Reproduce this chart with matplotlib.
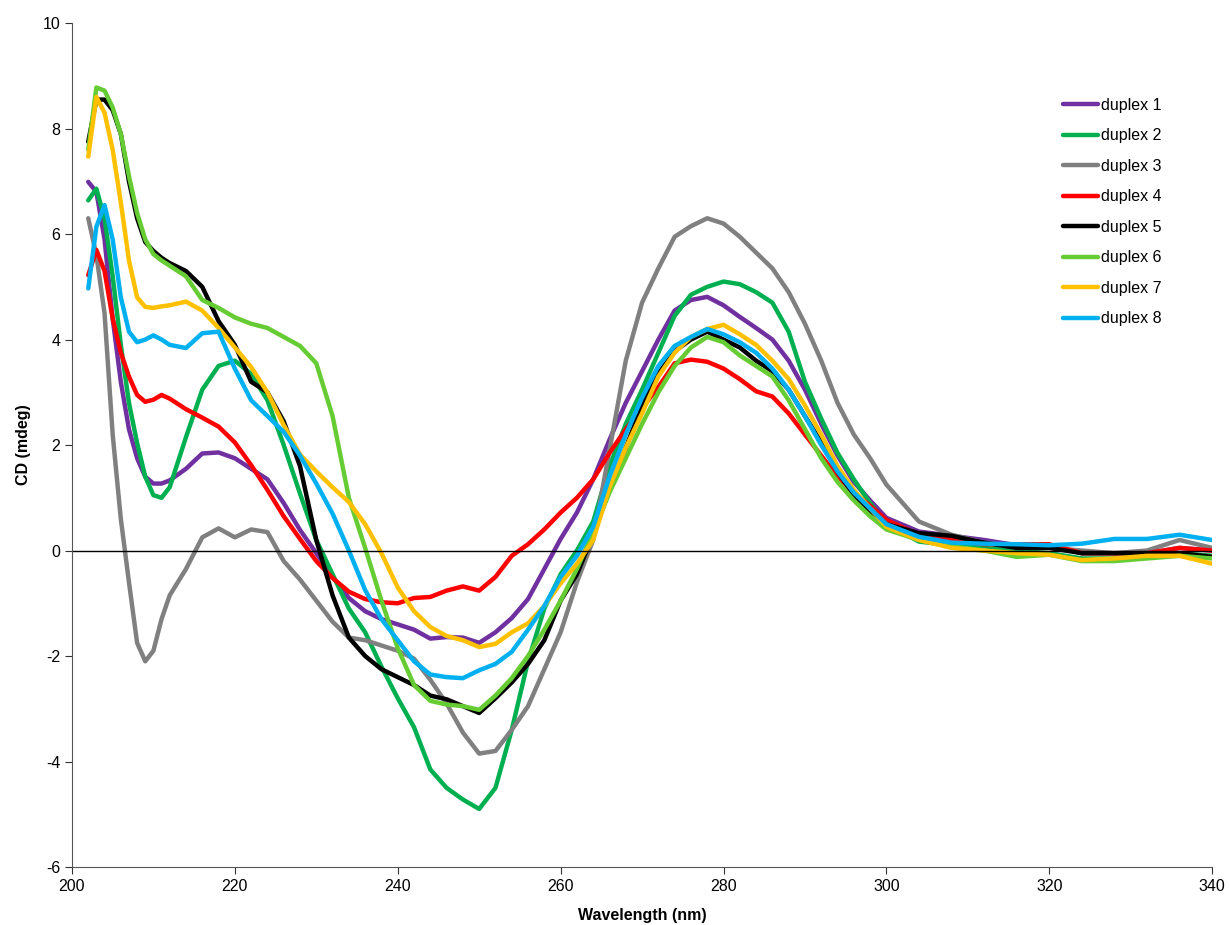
import matplotlib.pyplot as plt

plt.rcParams['font.family'] = ['Liberation Sans', 'DejaVu Sans']
plt.rcParams['axes.unicode_minus'] = False

# wavelength grid (nm)
wl = [202, 203, 204, 205, 206, 207, 208, 209, 210, 211, 212,
      214, 216, 218, 220, 222, 224, 226, 228, 230, 232, 234, 236, 238, 240,
      242, 244, 246, 248, 250, 252, 254, 256, 258, 260, 262, 264, 266, 268,
      270, 272, 274, 276, 278, 280, 282, 284, 286, 288, 290, 292, 294, 296,
      298, 300, 304, 308, 312, 316, 320, 324, 328, 332, 336, 340]

duplex1 = [6.99, 6.8, 5.9, 4.4, 3.2, 2.3, 1.75, 1.4, 1.27, 1.27, 1.33,
           1.55, 1.84, 1.86, 1.75, 1.55, 1.35, 0.9, 0.39, -0.05, -0.5, -0.9, -1.15, -1.3, -1.4,
           -1.5, -1.67, -1.64, -1.65, -1.75, -1.55, -1.28, -0.92, -0.35, 0.22, 0.72, 1.35, 2.1, 2.8,
           3.4, 4.0, 4.55, 4.75, 4.81, 4.65, 4.43, 4.22, 4.0, 3.6, 3.05, 2.4, 1.8, 1.3,
           0.95, 0.62, 0.36, 0.28, 0.2, 0.1, 0.1, -0.05, -0.05, -0.05, 0.05, 0.0]

duplex2 = [6.64, 6.86, 6.3, 5.2, 3.9, 2.8, 2.04, 1.4, 1.05, 1.0, 1.2,
           2.15, 3.05, 3.5, 3.6, 3.35, 2.85, 2.0, 1.08, 0.2, -0.45, -1.1, -1.55, -2.2, -2.8,
           -3.35, -4.15, -4.5, -4.72, -4.9, -4.5, -3.4, -2.1, -1.1, -0.45, 0.0, 0.55, 1.6, 2.4,
           3.05, 3.75, 4.45, 4.85, 5.0, 5.1, 5.05, 4.9, 4.7, 4.15, 3.2, 2.5, 1.85, 1.35,
           0.9, 0.5, 0.17, 0.1, 0.05, 0.0, -0.05, -0.15, -0.15, -0.1, -0.05, -0.1]

duplex3 = [6.3, 5.6, 4.5, 2.2, 0.6, -0.6, -1.75, -2.1, -1.9, -1.3, -0.85,
           -0.35, 0.25, 0.42, 0.25, 0.4, 0.35, -0.2, -0.55, -0.95, -1.35, -1.65, -1.7, -1.8, -1.9,
           -2.05, -2.45, -2.9, -3.45, -3.85, -3.8, -3.4, -2.95, -2.25, -1.55, -0.6, 0.2, 1.9, 3.6,
           4.7, 5.35, 5.95, 6.15, 6.3, 6.2, 5.95, 5.65, 5.35, 4.9, 4.3, 3.6, 2.8, 2.2,
           1.75, 1.25, 0.55, 0.3, 0.15, 0.05, 0.05, 0.0, -0.05, 0.0, 0.2, 0.05]

duplex4 = [5.22, 5.7, 5.3, 4.4, 3.75, 3.3, 2.95, 2.82, 2.86, 2.95, 2.88,
           2.68, 2.52, 2.35, 2.05, 1.62, 1.15, 0.65, 0.22, -0.2, -0.52, -0.78, -0.92, -0.98, -1.0,
           -0.9, -0.88, -0.76, -0.68, -0.76, -0.5, -0.1, 0.12, 0.4, 0.72, 1.0, 1.35, 1.85, 2.3,
           2.7, 3.1, 3.55, 3.62, 3.58, 3.45, 3.25, 3.02, 2.92, 2.6, 2.2, 1.8, 1.4, 1.1,
           0.85, 0.58, 0.3, 0.2, 0.12, 0.12, 0.12, -0.05, -0.05, -0.05, 0.05, 0.0]

duplex5 = [7.75, 8.55, 8.55, 8.35, 7.9, 7.0, 6.3, 5.85, 5.68, 5.55, 5.45,
           5.3, 5.0, 4.35, 3.9, 3.2, 3.0, 2.45, 1.6, 0.2, -0.85, -1.65, -2.0, -2.25, -2.4,
           -2.55, -2.75, -2.82, -2.95, -3.08, -2.8, -2.5, -2.15, -1.7, -0.95, -0.45, 0.3, 1.15, 1.95,
           2.75, 3.35, 3.78, 4.0, 4.15, 4.0, 3.85, 3.6, 3.4, 3.05, 2.55, 2.05, 1.5, 1.05,
           0.75, 0.5, 0.33, 0.28, 0.15, 0.05, 0.05, -0.05, -0.05, -0.05, -0.05, -0.12]

duplex6 = [7.6, 8.78, 8.72, 8.4, 7.9, 7.1, 6.4, 5.9, 5.62, 5.5, 5.4,
           5.2, 4.75, 4.6, 4.42, 4.3, 4.22, 4.05, 3.88, 3.55, 2.55, 1.0, 0.05, -0.95, -1.85,
           -2.55, -2.85, -2.92, -2.95, -3.02, -2.75, -2.42, -2.0, -1.5, -0.95, -0.35, 0.35, 1.1, 1.75,
           2.4, 3.0, 3.5, 3.85, 4.05, 3.95, 3.7, 3.5, 3.3, 2.85, 2.3, 1.75, 1.3, 0.95,
           0.65, 0.4, 0.2, 0.08, 0.0, -0.12, -0.08, -0.2, -0.2, -0.15, -0.1, -0.15]

duplex7 = [7.47, 8.6, 8.3, 7.6, 6.6, 5.5, 4.8, 4.62, 4.6, 4.63, 4.65,
           4.72, 4.55, 4.22, 3.85, 3.48, 3.0, 2.38, 1.82, 1.5, 1.2, 0.92, 0.5, -0.05, -0.7,
           -1.15, -1.45, -1.62, -1.7, -1.83, -1.77, -1.55, -1.38, -1.05, -0.62, -0.25, 0.2, 1.2, 1.95,
           2.6, 3.3, 3.75, 4.05, 4.2, 4.28, 4.1, 3.9, 3.6, 3.25, 2.75, 2.2, 1.6, 1.15,
           0.8, 0.45, 0.2, 0.05, 0.0, -0.05, -0.08, -0.18, -0.15, -0.1, -0.1, -0.25]

duplex8 = [4.97, 6.14, 6.55, 5.9, 4.8, 4.15, 3.95, 4.0, 4.08, 4.0, 3.9,
           3.84, 4.12, 4.15, 3.45, 2.85, 2.55, 2.25, 1.8, 1.27, 0.7, 0.0, -0.75, -1.3, -1.7,
           -2.1, -2.35, -2.4, -2.42, -2.27, -2.15, -1.92, -1.5, -1.05, -0.5, -0.1, 0.45, 1.4, 2.2,
           2.9, 3.5, 3.88, 4.05, 4.2, 4.1, 3.95, 3.75, 3.45, 3.05, 2.55, 2.0, 1.5, 1.1,
           0.8, 0.5, 0.26, 0.15, 0.13, 0.12, 0.1, 0.13, 0.22, 0.22, 0.3, 0.2]

labels = ['duplex 1', 'duplex 2', 'duplex 3', 'duplex 4',
          'duplex 5', 'duplex 6', 'duplex 7', 'duplex 8']
series = [duplex1, duplex2, duplex3, duplex4, duplex5, duplex6, duplex7, duplex8]
colors = ['#7030A0', '#00B050', '#808080', '#FF0000',
          '#000000', '#66CC33', '#FFC000', '#00B0F0']

fig = plt.figure(figsize=(12.3, 9.25), dpi=100)
ax = fig.add_axes([0.0585, 0.0627, 0.927, 0.9123])

for y, c, lab in zip(series, colors, labels):
    ax.plot(wl, y, color=c, linewidth=3.2, label=lab, solid_capstyle='round')

ax.axhline(0, color='black', linewidth=1)

ax.set_xlim(200, 340)
ax.set_ylim(-6, 10)
ax.set_xticks(range(200, 341, 20))
ax.set_yticks(range(-6, 11, 2))
ax.spines['top'].set_visible(False)
ax.spines['right'].set_visible(False)
ax.spines['left'].set_color('#555555')
ax.spines['bottom'].set_color('#555555')
ax.tick_params(direction='out', length=5, labelsize=11.5, colors='#333333')
ax.tick_params(axis='both', labelcolor='black')

ax.set_xlabel('Wavelength (nm)', fontsize=11.5, fontweight='bold', labelpad=10)
ax.set_ylabel('CD (mdeg)', fontsize=11.5, fontweight='bold', labelpad=8)

ax.legend(loc='upper left', bbox_to_anchor=(0.858, 0.903),
          bbox_transform=fig.transFigure, frameon=False, fontsize=11.5,
          handlelength=2.2, handletextpad=0.15, labelspacing=0.97, borderpad=0)

plt.savefig('out.png', dpi=100)
